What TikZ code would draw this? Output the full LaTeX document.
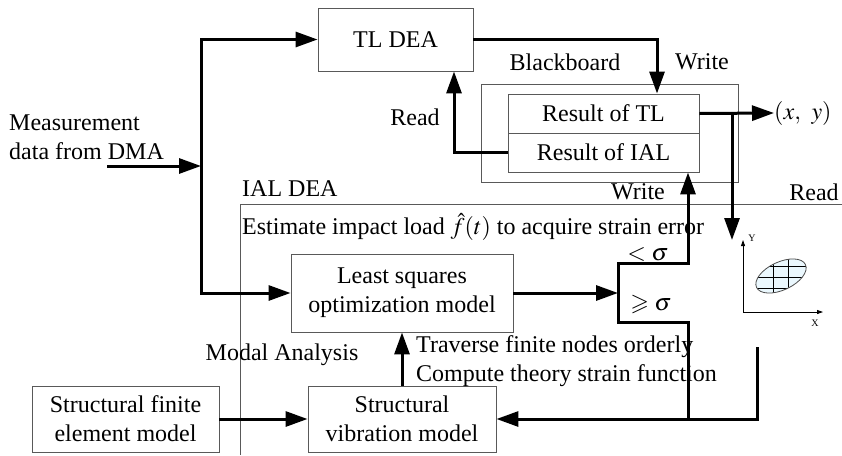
\documentclass[tikz,border=0pt]{standalone}
\usepackage{mathptmx}
\usepackage{amssymb}
\usepackage{fontspec}
\setmainfont{Liberation Serif}
\usetikzlibrary{arrows.meta}
\begin{document}
\begin{tikzpicture}[x=1pt,y=-1pt,
  every node/.style={font=\fontsize{24}{29}\selectfont},
  box/.style={draw=black!65,line width=0.9pt,inner sep=0pt,align=center},
  lbl/.style={inner sep=0pt},
  arr/.style={line width=3pt,-{Triangle[length=22pt,width=15pt]}},
  lin/.style={line width=3pt},
  frame/.style={draw=black!65,line width=0.9pt},
  axis/.style={line width=0.8pt,-{Triangle[length=6pt,width=4pt]}}]
\useasboundingbox (0,0) rectangle (842,455);

% boxes
\node[box,minimum width=155pt,minimum height=63pt] (tl) at (395.5,39.5) {TL DEA};
\node[box,minimum width=257pt,minimum height=98pt] (bb) at (609.5,133) {};
\node[box,minimum width=191pt,minimum height=39pt] (rtl) at (603.5,113.5) {Result of TL};
\node[box,minimum width=191pt,minimum height=39pt] (rial) at (603.5,152.5) {Result of IAL};
\node[box,minimum width=222pt,minimum height=78pt] (lsq) at (402,293) {Least squares\\optimization model};
\node[box,minimum width=188pt,minimum height=66pt] (svm) at (402,419) {Structural\\vibration model};
\node[box,minimum width=187pt,minimum height=66pt] (sfe) at (125.5,419) {Structural finite\\element model};

% IAL DEA frame
\coordinate (ftr) at (842,204);
\coordinate (ftl) at (240,204);
\coordinate (fbl) at (240,455);
\draw[frame] (ftr) -- (ftl) -- (fbl);

% labels
\node[lbl,align=left,anchor=west] (meas) at (9,137) {Measurement\\data from DMA};
\node[lbl] (bbl) at (565,62) {Blackboard};
\node[lbl] (wr1) at (702,62) {Write};
\node[lbl] (rd1) at (415,117) {Read};
\node[lbl,anchor=west] (ialdea) at (242,189) {IAL DEA};
\node[lbl] (wr2) at (638,192) {Write};
\node[lbl] (rd2) at (814,192) {Read};
\node[lbl,anchor=west] (est) at (242,227) {Estimate impact load $\hat{f}(t)$ to acquire strain error};
\node[lbl] (lt) at (648,254) {$<\sigma$};
\node[lbl] (ge) at (651,304) {$\geqslant\sigma$};
\node[lbl] (modal) at (282,355) {Modal Analysis};
\node[lbl,align=left,anchor=west] (trav) at (416,361) {Traverse finite nodes orderly\\Compute theory strain function};
\node[lbl,anchor=west] (xy) at (774,113) {$(x,\,\,\,y)$};

% input connectors
\coordinate (in) at (107,166);
\coordinate (bar) at (201,166);
\draw[arr] (in) -- (bar);
\draw[arr] (bar) |- (tl.west);
\draw[arr] (bar) |- (lsq.west);

% TL DEA -> blackboard
\draw[arr] (tl.east) -| ([xshift=53.5pt]rtl.north);
% Read from result of IAL
\draw[arr] (rial.west) -| ([xshift=58.5pt]tl.south);
% output
\draw[arr] (rtl.east) -- (xy.west);
\coordinate (rdstart) at (732,113);
\coordinate (rdend) at (732,240);
\draw[arr] (rdstart) -- (rdend);

% least squares to switch
\coordinate (jm) at (618,293);
\coordinate (jt) at (618,263);
\coordinate (jb) at (618,322);
\coordinate (jbx) at (688,419);
\draw[arr] (lsq.east) -- (jm);
\draw[arr] (jb) -- (jt) -| ([xshift=84.5pt]rial.south);
\draw[lin] (jt) -- (jb) -| (jbx);

% feedback
\coordinate (fb) at (757,347);
\draw[arr] (fb) |- (svm.east);

% model chain
\draw[arr] (sfe.east) -- (svm.west);
\draw[arr] (svm.north) -- (lsq.south);

% graph icon
\coordinate (org) at (743,312);
\coordinate (ytip) at (743,240);
\coordinate (xtip) at (823,312);
\draw[axis] (org) -- (ytip);
\draw[axis] (org) -- (xtip);
\node[lbl,font=\fontsize{10}{10}\selectfont] (ylab) at (752,238) {Y};
\node[lbl,font=\fontsize{10}{10}\selectfont] (xlab) at (815,323) {X};
\fill[cyan!8,rotate around={25:(781,276)}] (781,276) ellipse [x radius=27pt,y radius=14pt];
\begin{scope}
\clip[rotate around={25:(781,276)}] (781,276) ellipse [x radius=27pt,y radius=14pt];
\draw[line width=0.8pt] (773,240) -- (773,310);
\draw[line width=0.8pt] (788,240) -- (788,310);
\draw[line width=0.8pt] (740,266) -- (820,266);
\draw[line width=0.8pt] (740,277) -- (820,277);
\draw[line width=0.8pt] (740,288) -- (820,288);
\end{scope}
\draw[black!70,line width=0.8pt,rotate around={25:(781,276)}] (781,276) ellipse [x radius=27pt,y radius=14pt];
\end{tikzpicture}
\end{document}
